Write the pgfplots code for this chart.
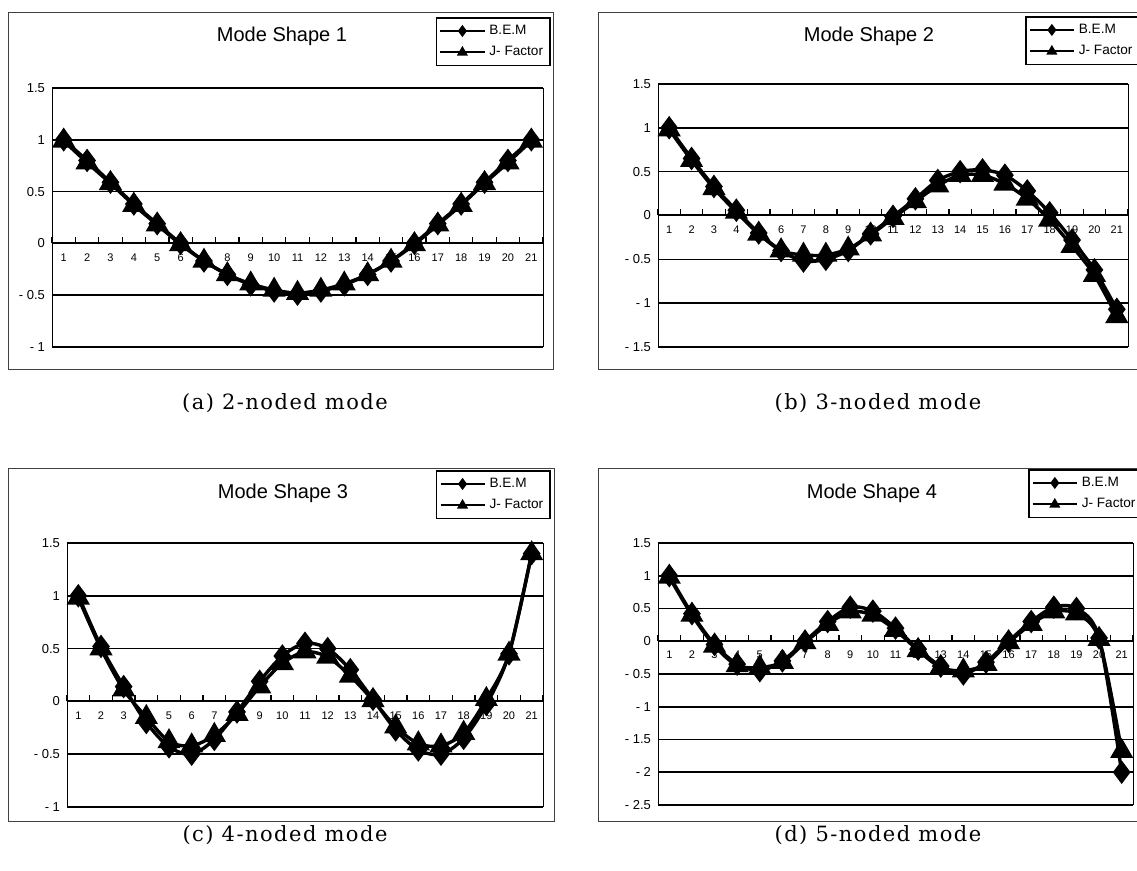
\documentclass[border=0pt]{standalone}
\usepackage{pgfplots}
\pgfplotsset{compat=1.18}
\usepackage{fontspec}
\setmainfont{Liberation Sans}
\newfontfamily\capfont[LetterSpace=7]{DejaVu Serif}

\pgfplotsset{
  modeaxis/.style={
    scale only axis,
    anchor=south west,
    /pgf/number format/assume math mode=true,
    xmin=0.5, xmax=21.5,
    axis x line*=middle, axis y line*=left,
    hide obscured x ticks=false, hide obscured y ticks=false,
    axis line style={black, line width=0.4pt},
    x axis line style={line width=1pt},
    xtick={1,...,21},
    xticklabel style={font=\fontsize{5.5}{6}\selectfont, yshift=-1.5pt},
    major x tick style={draw=none},
    minor xtick={0.5,1.5,...,21.5},
    minor x tick style={black, line width=0.6pt},
    minor tick length=3pt,
    xtick align=inside,
    ymajorgrids, grid style={black, line width=0.8pt},
    y tick style={draw=none},
    yticklabel style={font=\fontsize{6.5}{7}\selectfont},
    legend style={draw=black, line width=0.8pt, font=\fontsize{6.8}{7.5}\selectfont,
      inner sep=1.5pt, row sep=0.5pt, fill=white},
    legend cell align=left,
    legend image code/.code={\draw[mark repeat=2,mark phase=2,#1] plot coordinates {(0pt,0pt)(11pt,0pt)(22pt,0pt)};},
    legend image post style={mark size=2.2pt, line width=1pt},
    clip=false,
    after end axis/.code={\draw[line width=0.4pt] (rel axis cs:0,1) -- (rel axis cs:1,1) -- (rel axis cs:1,0);},
  },
  bem/.style={black, line width=1.7pt, smooth, tension=0.5, mark=diamond*, mark size=4.5pt},
  jf/.style={black, line width=1.7pt, smooth, tension=0.5, mark=triangle*, mark size=5pt},
}

\begin{document}
\begin{tikzpicture}
\path[use as bounding box] (0,0) rectangle (568.5pt,435.5pt);
\begin{scope}
\clip (0,0) rectangle (568.5pt,435.5pt);
% outer chart frames
\draw[black!75, line width=0.5pt] (4pt,250.5pt) rectangle (276.5pt,429pt);
\draw[black!75, line width=0.5pt] (299pt,250.5pt) rectangle (590pt,429pt);
\draw[black!75, line width=0.5pt] (4pt,24.5pt) rectangle (277pt,201pt);
\draw[black!75, line width=0.5pt] (299pt,24.5pt) rectangle (590pt,201pt);

% titles
\node[font=\fontsize{10}{12}\selectfont] at (141pt,417.5pt) {Mode Shape 1};
\node[font=\fontsize{10}{12}\selectfont] at (434.5pt,417.5pt) {Mode Shape 2};
\node[font=\fontsize{10}{12}\selectfont] at (141.5pt,189pt) {Mode Shape 3};
\node[font=\fontsize{10}{12}\selectfont] at (436pt,189pt) {Mode Shape 4};

% (a)
\begin{axis}[modeaxis, at={(26pt,262pt)}, width=245.5pt, height=129.5pt,
  ymin=-1, ymax=1.5, ytick={-1,-0.5,0,0.5,1,1.5}, yticklabels={- 1,- 0.5,0,0.5,1,1.5},
  legend style={at={(1.016,1.274)}, anchor=north east}]
\addplot[bem] coordinates {(1,1)(2,0.8)(3,0.59)(4,0.38)(5,0.19)(6,0.0)(7,-0.17)(8,-0.3)(9,-0.4)(10,-0.46)(11,-0.49)(12,-0.46)(13,-0.4)(14,-0.3)(15,-0.17)(16,0.0)(17,0.19)(18,0.38)(19,0.59)(20,0.8)(21,1.0)};
\addplot[jf] coordinates {(1,0.99)(2,0.78)(3,0.58)(4,0.37)(5,0.18)(6,-0.01)(7,-0.17)(8,-0.3)(9,-0.39)(10,-0.45)(11,-0.48)(12,-0.45)(13,-0.39)(14,-0.3)(15,-0.17)(16,-0.01)(17,0.18)(18,0.37)(19,0.58)(20,0.78)(21,0.99)};
\legend{B.E.M, J- Factor}
\end{axis}

% (b)
\begin{axis}[modeaxis, at={(329pt,262pt)}, width=235pt, height=131.5pt,
  ymin=-1.5, ymax=1.5, ytick={-1.5,-1,-0.5,0,0.5,1,1.5}, yticklabels={- 1.5,- 1,- 0.5,0,0.5,1,1.5},
  legend style={at={(0.781,1.2586)}, anchor=north west}]
\addplot[bem] coordinates {(1,1)(2,0.65)(3,0.33)(4,0.06)(5,-0.2)(6,-0.4)(7,-0.52)(8,-0.5)(9,-0.4)(10,-0.21)(11,-0.01)(12,0.19)(13,0.4)(14,0.5)(15,0.52)(16,0.46)(17,0.28)(18,0.03)(19,-0.28)(20,-0.62)(21,-1.07)};
\addplot[jf] coordinates {(1,0.98)(2,0.63)(3,0.31)(4,0.04)(5,-0.21)(6,-0.4)(7,-0.45)(8,-0.45)(9,-0.38)(10,-0.22)(11,-0.03)(12,0.16)(13,0.34)(14,0.46)(15,0.46)(16,0.36)(17,0.19)(18,-0.05)(19,-0.35)(20,-0.68)(21,-1.15)};
\legend{B.E.M, J- Factor}
\end{axis}

% (c)
\begin{axis}[modeaxis, at={(33.5pt,32pt)}, width=238pt, height=132pt,
  ymin=-1, ymax=1.5, ytick={-1,-0.5,0,0.5,1,1.5}, yticklabels={- 1,- 0.5,0,0.5,1,1.5},
  legend style={at={(1.0168,1.2765)}, anchor=north east}]
\addplot[bem] coordinates {(1,1)(2,0.52)(3,0.14)(4,-0.2)(5,-0.43)(6,-0.5)(7,-0.36)(8,-0.1)(9,0.19)(10,0.43)(11,0.55)(12,0.5)(13,0.3)(14,0.02)(15,-0.27)(16,-0.46)(17,-0.5)(18,-0.35)(19,-0.03)(20,0.45)(21,1.4)};
\addplot[jf] coordinates {(1,0.98)(2,0.5)(3,0.11)(4,-0.15)(5,-0.38)(6,-0.42)(7,-0.32)(8,-0.12)(9,0.14)(10,0.36)(11,0.47)(12,0.42)(13,0.24)(14,0.01)(15,-0.24)(16,-0.4)(17,-0.42)(18,-0.3)(19,0.02)(20,0.45)(21,1.4)};
\legend{B.E.M, J- Factor}
\end{axis}

% (d)
\begin{axis}[modeaxis, at={(329pt,33pt)}, width=237.5pt, height=131pt,
  ymin=-2.5, ymax=1.5, ytick={-2.5,-2,-1.5,-1,-0.5,0,0.5,1,1.5}, yticklabels={- 2.5,- 2,- 1.5,- 1,- 0.5,0,0.5,1,1.5},
  legend style={at={(0.779,1.2824)}, anchor=north west}]
\addplot[bem] coordinates {(1,1)(2,0.42)(3,-0.05)(4,-0.35)(5,-0.45)(6,-0.3)(7,0.0)(8,0.3)(9,0.52)(10,0.46)(11,0.2)(12,-0.12)(13,-0.38)(14,-0.5)(15,-0.32)(16,0.0)(17,0.3)(18,0.52)(19,0.5)(20,0.05)(21,-2.0)};
\addplot[jf] coordinates {(1,0.98)(2,0.4)(3,-0.07)(4,-0.37)(5,-0.4)(6,-0.32)(7,-0.02)(8,0.26)(9,0.45)(10,0.4)(11,0.17)(12,-0.14)(13,-0.4)(14,-0.45)(15,-0.35)(16,-0.02)(17,0.26)(18,0.45)(19,0.42)(20,0.03)(21,-1.68)};
\legend{B.E.M, J- Factor}
\end{axis}
\end{scope}

% captions
\node[font=\capfont\fontsize{10.5}{12}\selectfont] at (142.5pt,234pt) {(a) 2-noded mode};
\node[font=\capfont\fontsize{10.5}{12}\selectfont] at (439pt,234pt) {(b) 3-noded mode};
\node[font=\capfont\fontsize{10.5}{12}\selectfont] at (142.5pt,18pt) {(c) 4-noded mode};
\node[font=\capfont\fontsize{10.5}{12}\selectfont] at (439pt,18pt) {(d) 5-noded mode};
\end{tikzpicture}
\end{document}
